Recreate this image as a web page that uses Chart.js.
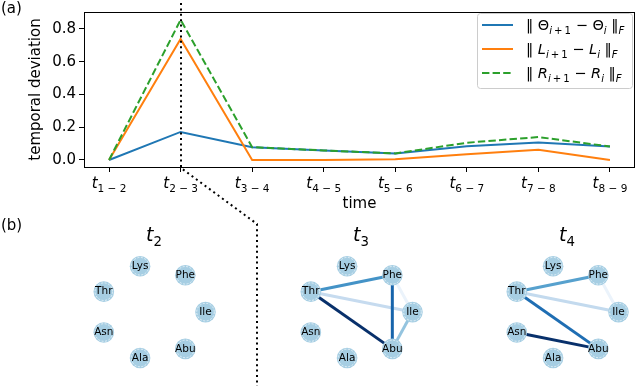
<!DOCTYPE html>
<html>
<head>
<meta charset="utf-8">
<script src="https://cdn.jsdelivr.net/npm/chart.js@4.4.0/dist/chart.umd.min.js"></script>
<style>
  html, body { margin: 0; padding: 0; background: #fff; }
  #wrap { position: relative; width: 640px; height: 386px; overflow: hidden; background: #fff; }
  canvas { position: absolute; }
</style>
</head>
<body>
<div id="wrap">
  <canvas id="top" width="640" height="386" style="left:0;top:0;width:640px;height:386px"></canvas>
  <canvas id="net2" width="150" height="160" style="left:77px;top:226px;width:150px;height:160px"></canvas>
  <canvas id="net3" width="150" height="160" style="left:284px;top:226px;width:150px;height:160px"></canvas>
  <canvas id="net4" width="150" height="160" style="left:490px;top:226px;width:150px;height:160px"></canvas>
</div>
<script>
// ---- data (a) ----
const periods  = ['1 − 2', '2 − 3', '3 − 4', '4 − 5', '5 − 6', '6 − 7', '7 − 8', '8 − 9'];
const thetaDev = [0, 0.171, 0.078, 0.058, 0.039, 0.083, 0.107, 0.082];
const lDev     = [0, 0.738, 0, 0, 0.004, 0.035, 0.062, 0];
const rDev     = [0, 0.855, 0.078, 0.058, 0.040, 0.105, 0.140, 0.082];
const yTicks   = [0, 0.2, 0.4, 0.6, 0.8];
const markedPeriod = 1; // t_{2-3}

// ---- data (b) : circular layout of the 7 nodes ----
const nodeNames = ['Ile', 'Phe', 'Lys', 'Thr', 'Asn', 'Ala', 'Abu'];
const nodeX     = [1, 0.623, -0.223, -0.901, -0.901, -0.223, 0.623];
const nodeY     = [0, 0.782, 0.975, 0.434, -0.434, -0.975, -0.782];
const edgesT2 = [];
const edgesT3 = [['Thr', 'Abu', 1.0], ['Phe', 'Abu', 0.8], ['Thr', 'Phe', 0.62], ['Ile', 'Abu', 0.4], ['Thr', 'Ile', 0.25], ['Phe', 'Ile', 0.06]];
const edgesT4 = [['Asn', 'Abu', 1.0], ['Thr', 'Abu', 0.76], ['Thr', 'Phe', 0.56], ['Thr', 'Ile', 0.26], ['Phe', 'Ile', 0.06]];

const FONT = '"DejaVu Sans", sans-serif';
const BASE = 15;

// rich text helpers (mathtext-like)
const R  = t => ({ t });
const I  = t => ({ t, it: true });
const S  = t => ({ t, sub: true });
const SI = t => ({ t, it: true, sub: true });

function drawRich(ctx, x, y, segs, size, align) {
  const sub = size * 0.7, drop = size * 0.27;
  const font = s => `${s.it ? 'italic ' : ''}${s.sub ? sub : size}px ${FONT}`;
  let w = 0;
  segs.forEach(s => { ctx.font = font(s); s.w = ctx.measureText(s.t).width; w += s.w; });
  let cx = align === 'center' ? x - w / 2 : x;
  ctx.textAlign = 'left';
  ctx.textBaseline = 'alphabetic';
  ctx.fillStyle = '#000';
  segs.forEach(s => { ctx.font = font(s); ctx.fillText(s.t, cx, s.sub ? y + drop : y); cx += s.w; });
}

// matplotlib Blues
const blues = ['#f7fbff', '#deebf7', '#c6dbef', '#9ecae1', '#6baed6', '#4292c6', '#2171b5', '#08519c', '#08306b'];
function bluesColor(v) {
  const p = Math.max(0, Math.min(1, v)) * (blues.length - 1);
  const i = Math.min(Math.floor(p), blues.length - 2), f = p - i;
  const a = parseInt(blues[i].slice(1), 16), b = parseInt(blues[i + 1].slice(1), 16);
  const ch = sh => Math.round(((a >> sh) & 255) * (1 - f) + ((b >> sh) & 255) * f);
  return `rgb(${ch(16)},${ch(8)},${ch(0)})`;
}

// ---- top chart ----
const toPts = arr => arr.map((v, i) => ({ x: i, y: v }));

const PLUS1 = '\u2009+\u20091';
const legendItems = [
  { color: '#1f77b4', dash: [], segs: [R('‖ Θ'), SI('i'), S(PLUS1), R(' − Θ'), SI('i'), R(' ‖'), SI('F')] },
  { color: '#ff7f0e', dash: [], segs: [R('‖ '), I('L'), SI('i'), S(PLUS1), R(' − '), I('L'), SI('i'), R(' ‖'), SI('F')] },
  { color: '#2ca02c', dash: [7.4, 3.2], segs: [R('‖ '), I('R'), SI('i'), S(PLUS1), R(' − '), I('R'), SI('i'), R(' ‖'), SI('F')] }
];

const decorPlugin = {
  id: 'decor',
  afterDraw(chart) {
    const { ctx, chartArea: a, scales: { x } } = chart;
    ctx.save();
    // frame
    ctx.strokeStyle = '#000';
    ctx.lineWidth = 1;
    ctx.setLineDash([]);
    ctx.strokeRect(a.left + 0.5, a.top + 0.5, a.right - a.left - 1, a.bottom - a.top);

    // x tick labels
    periods.forEach((p, i) => drawRich(ctx, x.getPixelForValue(i), a.bottom + 21, [I('t'), S(p)], BASE, 'center'));

    // axis titles
    ctx.font = `${BASE}px ${FONT}`;
    ctx.fillStyle = '#000';
    ctx.textAlign = 'center';
    ctx.textBaseline = 'alphabetic';
    ctx.fillText('time', (a.left + a.right) / 2, a.bottom + 41);
    ctx.save();
    ctx.translate(36, (a.top + a.bottom) / 2);
    ctx.rotate(-Math.PI / 2);
    ctx.textBaseline = 'middle';
    ctx.fillText('temporal deviation', 0, 0);
    ctx.restore();

    // panel letters
    ctx.textAlign = 'left';
    ctx.fillText('(a)', 1, 13);
    ctx.fillText('(b)', 1, 230);

    // dotted connector from t_{2-3} down to the t_3 network
    const px = Math.round(x.getPixelForValue(markedPeriod));
    ctx.strokeStyle = '#000';
    ctx.lineWidth = 2;
    ctx.setLineDash([2, 3.4]);
    ctx.beginPath();
    ctx.moveTo(px, 3);
    ctx.lineTo(px, a.bottom + 1);
    ctx.lineTo(257, 224);
    ctx.lineTo(257, 386);
    ctx.stroke();

    // legend
    ctx.setLineDash([]);
    const lx = 477, ly = 13, lw = 155, lh = 75;
    ctx.fillStyle = 'rgba(255,255,255,0.8)';
    ctx.strokeStyle = '#cccccc';
    ctx.lineWidth = 1;
    ctx.beginPath();
    ctx.roundRect(lx + 0.5, ly + 0.5, lw, lh, 3);
    ctx.fill();
    ctx.stroke();
    legendItems.forEach((it, k) => {
      const yy = 25 + k * 24;
      ctx.strokeStyle = it.color;
      ctx.lineWidth = 2;
      ctx.setLineDash(it.dash);
      ctx.beginPath();
      ctx.moveTo(482, yy);
      ctx.lineTo(513, yy);
      ctx.stroke();
      ctx.setLineDash([]);
      drawRich(ctx, 526, yy + 5, it.segs, 14.5, 'left');
    });
    ctx.restore();
  }
};

new Chart(document.getElementById('top'), {
  type: 'line',
  data: {
    datasets: [
      { data: toPts(thetaDev), borderColor: '#1f77b4', borderWidth: 2, pointRadius: 0 },
      { data: toPts(lDev), borderColor: '#ff7f0e', borderWidth: 2, pointRadius: 0 },
      { data: toPts(rDev), borderColor: '#2ca02c', borderWidth: 2, pointRadius: 0, borderDash: [7.4, 3.2] }
    ].reverse()
  },
  options: {
    responsive: false,
    animation: false,
    events: [],
    layout: { padding: { left: 0, right: 5, top: 5, bottom: 174 } },
    plugins: { legend: { display: false }, tooltip: { enabled: false } },
    scales: {
      x: {
        type: 'linear', min: -0.35, max: 7.35,
        afterBuildTicks: s => { s.ticks = periods.map((p, i) => ({ value: i })); },
        afterFit: s => { s.height = 45; },
        ticks: { display: false },
        grid: { drawOnChartArea: false, drawTicks: true, tickLength: 5, color: '#000', lineWidth: 1 },
        border: { display: false }
      },
      y: {
        min: -0.043, max: 0.903,
        afterBuildTicks: s => { s.ticks = yTicks.map(v => ({ value: v })); },
        afterFit: s => { s.width = 84; },
        ticks: { color: '#000', font: { family: FONT, size: BASE }, padding: 3, callback: v => v.toFixed(1) },
        grid: { drawOnChartArea: false, drawTicks: true, tickLength: 5, color: '#000', lineWidth: 1 },
        border: { display: false }
      }
    }
  },
  plugins: [decorPlugin]
});

// ---- network panels ----
const netPlugin = {
  id: 'net',
  afterDatasetsDraw(chart) {
    const { ctx } = chart;
    const meta = chart.getDatasetMeta(0);
    ctx.save();
    meta.data.forEach((pt, i) => {
      ctx.strokeStyle = 'rgba(255,255,255,0.9)';
      ctx.lineWidth = 0.7;
      ctx.setLineDash([2, 1.5]);
      ctx.beginPath();
      ctx.arc(pt.x, pt.y, 8.8, 0, Math.PI * 2);
      ctx.stroke();
      ctx.setLineDash([]);
      ctx.font = `10.5px ${FONT}`;
      ctx.fillStyle = '#000';
      ctx.textAlign = 'center';
      ctx.textBaseline = 'middle';
      ctx.fillText(nodeNames[i], pt.x, pt.y);
    });
    const o = chart.options.plugins.net;
    drawRich(ctx, chart.width / 2 + 2, 15, [I('t'), S(o.sub)], 19, 'center');
    ctx.restore();
  }
};

function drawNet(id, edges, sub) {
  const idx = n => nodeNames.indexOf(n);
  const sorted = edges.slice().sort((a, b) => b[2] - a[2]);
  const edgeSets = sorted.map(([s, t, w]) => ({
    data: [{ x: nodeX[idx(s)], y: nodeY[idx(s)] }, { x: nodeX[idx(t)], y: nodeY[idx(t)] }],
    showLine: true, borderColor: bluesColor(w), borderWidth: 3, pointRadius: 0
  }));
  new Chart(document.getElementById(id), {
    type: 'scatter',
    data: {
      datasets: [
        { data: nodeNames.map((n, i) => ({ x: nodeX[i], y: nodeY[i] })), pointRadius: 10.3, backgroundColor: '#a6cee3', borderWidth: 0 },
        ...edgeSets
      ]
    },
    options: {
      responsive: false,
      animation: false,
      events: [],
      layout: { padding: 0 },
      plugins: { legend: { display: false }, tooltip: { enabled: false }, net: { sub } },
      scales: {
        x: { display: false, min: -1.2097, max: 1.2097 },
        y: { display: false, min: -1.352, max: 1.611 }
      }
    },
    plugins: [netPlugin]
  });
}

drawNet('net2', edgesT2, '2');
drawNet('net3', edgesT3, '3');
drawNet('net4', edgesT4, '4');
</script>
</body>
</html>
